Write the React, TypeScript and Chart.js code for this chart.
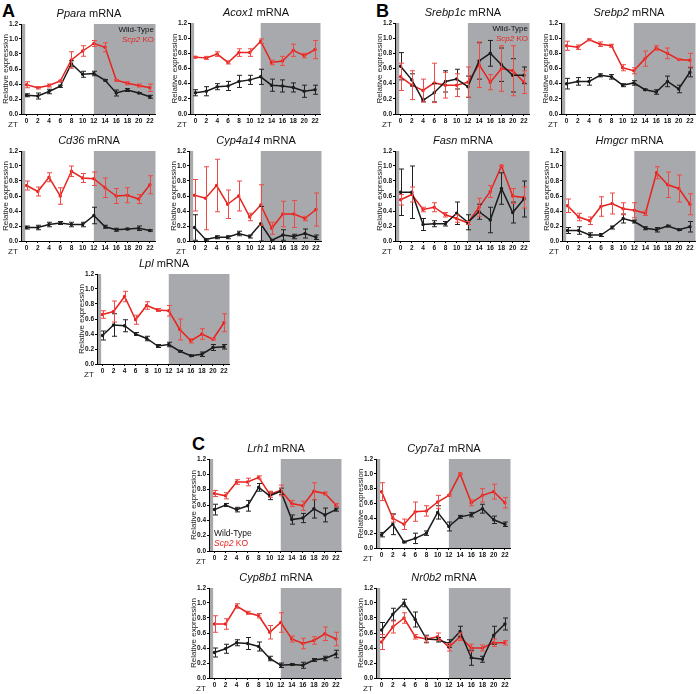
import React, { useEffect, useRef } from 'react';
import { Chart, registerables } from 'chart.js';

Chart.register(...registerables);

// ---- shared axes ----
const ztHours = [0, 2, 4, 6, 8, 10, 12, 14, 16, 18, 20, 22];
const yTickValues = [0, 0.2, 0.4, 0.6, 0.8, 1.0, 1.2];

// ---- Panel A ----
const pparaWT = [0.25, 0.24, 0.30, 0.37, 0.67, 0.53, 0.54, 0.45, 0.28, 0.32, 0.28, 0.23];
const pparaWTErr = [0.02, 0.04, 0.03, 0.015, 0.04, 0.04, 0.03, 0.01, 0.04, 0.02, 0.005, 0.02];
const pparaKO = [0.39, 0.35, 0.38, 0.44, 0.72, 0.84, 0.94, 0.89, 0.45, 0.41, 0.38, 0.35];
const pparaKOErr = [0.04, 0.015, 0.02, 0.01, 0.11, 0.07, 0.04, 0.06, 0.01, 0.02, 0.02, 0.05];

const acox1WT = [0.28, 0.30, 0.36, 0.37, 0.43, 0.45, 0.49, 0.38, 0.37, 0.35, 0.30, 0.32];
const acox1WTErr = [0.04, 0.06, 0.04, 0.06, 0.08, 0.06, 0.10, 0.08, 0.08, 0.06, 0.08, 0.06];
const acox1KO = [0.75, 0.74, 0.79, 0.68, 0.81, 0.81, 0.96, 0.68, 0.70, 0.84, 0.77, 0.85];
const acox1KOErr = [0.01, 0.02, 0.03, 0.02, 0.05, 0.05, 0.03, 0.03, 0.06, 0.08, 0.03, 0.12];

const cd36WT = [0.18, 0.18, 0.22, 0.24, 0.22, 0.22, 0.34, 0.19, 0.15, 0.16, 0.17, 0.14];
const cd36WTErr = [0.02, 0.03, 0.03, 0.02, 0.03, 0.03, 0.11, 0.02, 0.02, 0.01, 0.03, 0.01];
const cd36KO = [0.74, 0.66, 0.85, 0.60, 0.93, 0.84, 0.83, 0.71, 0.60, 0.61, 0.56, 0.75];
const cd36KOErr = [0.06, 0.06, 0.06, 0.11, 0.07, 0.06, 0.09, 0.13, 0.10, 0.10, 0.06, 0.12];

const cyp4a14WT = [0.18, 0.02, 0.05, 0.05, 0.10, 0.06, 0.23, 0.01, 0.08, 0.06, 0.10, 0.05];
const cyp4a14WTErr = [0.17, 0.01, 0.02, 0.02, 0.03, 0.02, 0.23, 0.01, 0.07, 0.03, 0.06, 0.03];
const cyp4a14KO = [0.61, 0.57, 0.74, 0.49, 0.60, 0.32, 0.48, 0.17, 0.36, 0.36, 0.30, 0.42];
const cyp4a14KOErr = [0.21, 0.42, 0.35, 0.19, 0.20, 0.05, 0.27, 0.08, 0.17, 0.18, 0.03, 0.22];

const lplWT = [0.38, 0.52, 0.51, 0.40, 0.34, 0.24, 0.26, 0.17, 0.11, 0.13, 0.22, 0.23];
const lplWTErr = [0.06, 0.15, 0.08, 0.02, 0.03, 0.02, 0.03, 0.01, 0.01, 0.03, 0.04, 0.03];
const lplKO = [0.66, 0.70, 0.90, 0.59, 0.78, 0.72, 0.71, 0.46, 0.31, 0.40, 0.33, 0.55];
const lplKOErr = [0.05, 0.14, 0.07, 0.06, 0.05, 0.02, 0.07, 0.14, 0.03, 0.07, 0.01, 0.12];

// ---- Panel B ----
const srebp1cWT = [0.63, 0.45, 0.18, 0.28, 0.43, 0.46, 0.36, 0.70, 0.80, 0.65, 0.51, 0.51];
const srebp1cWTErr = [0.18, 0.08, 0.02, 0.12, 0.14, 0.13, 0.14, 0.24, 0.17, 0.22, 0.22, 0.11];
const srebp1cKO = [0.49, 0.38, 0.31, 0.41, 0.38, 0.38, 0.42, 0.65, 0.42, 0.60, 0.57, 0.42];
const srebp1cKOErr = [0.18, 0.19, 0.15, 0.26, 0.17, 0.15, 0.20, 0.30, 0.10, 0.30, 0.33, 0.15];

const srebp2WT = [0.40, 0.43, 0.43, 0.51, 0.49, 0.38, 0.41, 0.32, 0.29, 0.43, 0.33, 0.55];
const srebp2WTErr = [0.07, 0.05, 0.05, 0.02, 0.03, 0.02, 0.03, 0.01, 0.03, 0.07, 0.05, 0.06];
const srebp2KO = [0.90, 0.88, 0.98, 0.92, 0.90, 0.61, 0.57, 0.73, 0.87, 0.80, 0.72, 0.71];
const srebp2KOErr = [0.06, 0.03, 0.01, 0.03, 0.02, 0.04, 0.04, 0.10, 0.03, 0.07, 0.01, 0.09];

const fasnWT = [0.65, 0.65, 0.22, 0.23, 0.23, 0.37, 0.25, 0.39, 0.28, 0.70, 0.38, 0.56];
const fasnWTErr = [0.31, 0.35, 0.08, 0.04, 0.03, 0.15, 0.10, 0.10, 0.17, 0.21, 0.14, 0.24];
const fasnKO = [0.55, 0.62, 0.42, 0.45, 0.35, 0.30, 0.24, 0.45, 0.66, 1.00, 0.60, 0.58];
const fasnKOErr = [0.07, 0.10, 0.03, 0.06, 0.03, 0.05, 0.02, 0.12, 0.08, 0.01, 0.10, 0.14];

const hmgcrWT = [0.14, 0.14, 0.08, 0.08, 0.18, 0.30, 0.26, 0.17, 0.15, 0.20, 0.15, 0.19];
const hmgcrWTErr = [0.04, 0.05, 0.03, 0.02, 0.02, 0.06, 0.02, 0.02, 0.03, 0.01, 0.01, 0.07];
const hmgcrKO = [0.47, 0.32, 0.27, 0.46, 0.50, 0.43, 0.41, 0.37, 0.91, 0.75, 0.70, 0.49];
const hmgcrKOErr = [0.09, 0.05, 0.05, 0.13, 0.14, 0.08, 0.10, 0.03, 0.08, 0.17, 0.18, 0.14];

// ---- Panel C ----
const lrh1WT = [0.54, 0.60, 0.54, 0.59, 0.83, 0.72, 0.78, 0.41, 0.43, 0.55, 0.47, 0.54];
const lrh1WTErr = [0.07, 0.02, 0.03, 0.07, 0.05, 0.05, 0.04, 0.06, 0.06, 0.12, 0.09, 0.02];
const lrh1KO = [0.75, 0.72, 0.90, 0.90, 0.96, 0.74, 0.79, 0.62, 0.59, 0.78, 0.75, 0.60];
const lrh1KOErr = [0.04, 0.04, 0.03, 0.05, 0.02, 0.04, 0.07, 0.04, 0.06, 0.11, 0.02, 0.02];

const cyp7a1WT = [0.18, 0.32, 0.08, 0.13, 0.20, 0.48, 0.29, 0.42, 0.45, 0.53, 0.38, 0.32];
const cyp7a1WTErr = [0.03, 0.14, 0.01, 0.07, 0.03, 0.09, 0.06, 0.02, 0.03, 0.06, 0.05, 0.03];
const cyp7a1KO = [0.76, 0.40, 0.32, 0.49, 0.50, 0.62, 0.71, 1.00, 0.61, 0.71, 0.76, 0.61];
const cyp7a1KOErr = [0.12, 0.05, 0.07, 0.13, 0.07, 0.09, 0.01, 0.01, 0.04, 0.09, 0.10, 0.07];

const cyp8b1WT = [0.34, 0.39, 0.47, 0.46, 0.42, 0.26, 0.17, 0.18, 0.17, 0.24, 0.26, 0.32];
const cyp8b1WTErr = [0.06, 0.06, 0.04, 0.08, 0.06, 0.03, 0.03, 0.01, 0.04, 0.02, 0.03, 0.05];
const cyp8b1KO = [0.72, 0.72, 0.96, 0.87, 0.83, 0.61, 0.74, 0.52, 0.46, 0.50, 0.59, 0.52];
const cyp8b1KOErr = [0.11, 0.07, 0.03, 0.02, 0.03, 0.09, 0.13, 0.04, 0.07, 0.05, 0.09, 0.09];

const nr0b2WT = [0.64, 0.85, 1.00, 0.78, 0.52, 0.51, 0.46, 0.62, 0.27, 0.25, 0.57, 0.72];
const nr0b2WTErr = [0.10, 0.08, 0.05, 0.10, 0.05, 0.03, 0.05, 0.07, 0.10, 0.04, 0.12, 0.08];
const nr0b2KO = [0.48, 0.68, 0.80, 0.55, 0.52, 0.55, 0.41, 0.55, 0.40, 0.40, 0.47, 0.47];
const nr0b2KOErr = [0.10, 0.08, 0.07, 0.03, 0.04, 0.05, 0.05, 0.05, 0.05, 0.04, 0.05, 0.03];

// ---- styling ----
const RED = '#e8231e';
const RED_ERR = '#ee4a45';
const BLACK = '#1a1a1a';
const SHADE = '#a8a9ad';
const FONT = '"Liberation Sans", Arial, sans-serif';

type Legend = 'topright' | 'bottomleft' | null;
interface Panel {
  gene: string;
  L: number; T: number; R: number; B: number;
  wt: number[]; wtErr: number[]; ko: number[]; koErr: number[];
  legend: Legend;
}

const panels: Panel[] = [
  { gene: 'Ppara', L: 21, T: 24, R: 157, B: 114, wt: pparaWT, wtErr: pparaWTErr, ko: pparaKO, koErr: pparaKOErr, legend: 'topright' },
  { gene: 'Acox1', L: 190, T: 23, R: 322, B: 114, wt: acox1WT, wtErr: acox1WTErr, ko: acox1KO, koErr: acox1KOErr, legend: null },
  { gene: 'Cd36', L: 21, T: 151, R: 157, B: 241, wt: cd36WT, wtErr: cd36WTErr, ko: cd36KO, koErr: cd36KOErr, legend: null },
  { gene: 'Cyp4a14', L: 189, T: 151, R: 323, B: 241, wt: cyp4a14WT, wtErr: cyp4a14WTErr, ko: cyp4a14KO, koErr: cyp4a14KOErr, legend: null },
  { gene: 'Lpl', L: 97, T: 274, R: 231, B: 364, wt: lplWT, wtErr: lplWTErr, ko: lplKO, koErr: lplKOErr, legend: null },
  { gene: 'Srebp1c', L: 395, T: 23, R: 531, B: 114, wt: srebp1cWT, wtErr: srebp1cWTErr, ko: srebp1cKO, koErr: srebp1cKOErr, legend: 'topright' },
  { gene: 'Srebp2', L: 561, T: 23, R: 697, B: 114, wt: srebp2WT, wtErr: srebp2WTErr, ko: srebp2KO, koErr: srebp2KOErr, legend: null },
  { gene: 'Fasn', L: 395, T: 151, R: 531, B: 241, wt: fasnWT, wtErr: fasnWTErr, ko: fasnKO, koErr: fasnKOErr, legend: null },
  { gene: 'Hmgcr', L: 562, T: 151, R: 697, B: 241, wt: hmgcrWT, wtErr: hmgcrWTErr, ko: hmgcrKO, koErr: hmgcrKOErr, legend: null },
  { gene: 'Lrh1', L: 209, T: 459, R: 343, B: 551, wt: lrh1WT, wtErr: lrh1WTErr, ko: lrh1KO, koErr: lrh1KOErr, legend: 'bottomleft' },
  { gene: 'Cyp7a1', L: 376, T: 459, R: 512, B: 548, wt: cyp7a1WT, wtErr: cyp7a1WTErr, ko: cyp7a1KO, koErr: cyp7a1KOErr, legend: null },
  { gene: 'Cyp8b1', L: 209, T: 588, R: 343, B: 678, wt: cyp8b1WT, wtErr: cyp8b1WTErr, ko: cyp8b1KO, koErr: cyp8b1KOErr, legend: null },
  { gene: 'Nr0b2', L: 376, T: 588, R: 512, B: 678, wt: nr0b2WT, wtErr: nr0b2WTErr, ko: nr0b2KO, koErr: nr0b2KOErr, legend: null },
];

const YW = 22; // y axis box width
const PT = 8;  // top padding
const PR = 4;  // right padding
const XH = 16; // x axis box height

const shadePlugin = {
  id: 'shade',
  beforeDraw(chart: any) {
    const { ctx, chartArea: a, scales } = chart;
    const x = scales.x;
    ctx.save();
    ctx.fillStyle = SHADE;
    const x0 = x.getPixelForValue(-0.25);
    ctx.fillRect(a.left, a.top, x0 - a.left, a.bottom - a.top);
    const x1 = x.getPixelForValue(12);
    ctx.fillRect(x1, a.top, a.right - x1, a.bottom - a.top);
    ctx.restore();
  },
};

const errPlugin = {
  id: 'errbars',
  afterDatasetsDraw(chart: any) {
    const { ctx, scales } = chart;
    const x = scales.x, y = scales.y;
    chart.data.datasets.forEach((ds: any) => {
      ctx.save();
      ctx.strokeStyle = ds.errColor;
      ctx.lineWidth = 1;
      ds.data.forEach((p: any, j: number) => {
        const e = ds.errors[j];
        const px = Math.round(x.getPixelForValue(p.x)) + 0.5;
        const yTop = y.getPixelForValue(p.y + e);
        const yBot = y.getPixelForValue(Math.max(0, p.y - e));
        ctx.beginPath();
        ctx.moveTo(px, yTop); ctx.lineTo(px, yBot);
        ctx.moveTo(px - 2.5, yTop); ctx.lineTo(px + 2.5, yTop);
        ctx.moveTo(px - 2.5, yBot); ctx.lineTo(px + 2.5, yBot);
        ctx.stroke();
      });
      ctx.restore();
    });
  },
  afterDraw(chart: any) {
    const { ctx, chartArea: a } = chart;
    ctx.save();
    ctx.fillStyle = '#222';
    ctx.font = `8px ${FONT}`;
    ctx.textAlign = 'center';
    ctx.textBaseline = 'middle';
    ctx.fillText('ZT', a.left - 8, a.bottom + 11);
    ctx.restore();
  },
};

function MiniChart({ p }: { p: Panel }) {
  const ref = useRef<HTMLCanvasElement>(null);
  const w = p.R - p.L + YW + PR;
  const h = p.B - p.T + PT + XH;
  useEffect(() => {
    if (!ref.current) return;
    const toPts = (arr: number[]) => arr.map((v, i) => ({ x: ztHours[i], y: v }));
    const chart = new Chart(ref.current, {
      type: 'line',
      data: {
        datasets: [
          {
            label: 'Wild-Type',
            data: toPts(p.wt),
            borderColor: BLACK,
            backgroundColor: BLACK,
            borderWidth: 1.5,
            pointRadius: 1,
            tension: 0,
            errors: p.wtErr,
            errColor: '#222',
          } as any,
          {
            label: 'Scp2 KO',
            data: toPts(p.ko),
            borderColor: RED,
            backgroundColor: RED,
            borderWidth: 1.5,
            pointRadius: 1,
            tension: 0,
            errors: p.koErr,
            errColor: RED_ERR,
          } as any,
        ],
      },
      options: {
        responsive: false,
        animation: false,
        events: [],
        layout: { padding: { top: PT, right: PR, left: 0, bottom: 0 } },
        plugins: { legend: { display: false }, tooltip: { enabled: false }, title: { display: false } },
        scales: {
          x: {
            type: 'linear',
            min: -1,
            max: 23,
            afterBuildTicks: (s: any) => { s.ticks = ztHours.map((v) => ({ value: v })); },
            afterFit: (s: any) => { s.height = XH; },
            grid: { drawOnChartArea: false, drawTicks: true, tickLength: 2, color: '#000', lineWidth: 1 },
            border: { display: true, color: '#000', width: 1 },
            ticks: {
              padding: 1,
              maxRotation: 0,
              autoSkip: false,
              color: '#111',
              font: { family: FONT, size: 6.5, weight: 'bold' },
              callback: (v: any) => String(v),
            },
          },
          y: {
            min: 0,
            max: 1.2,
            afterBuildTicks: (s: any) => { s.ticks = yTickValues.map((v) => ({ value: v })); },
            afterFit: (s: any) => { s.width = YW; },
            grid: { drawOnChartArea: false, drawTicks: true, tickLength: 2, color: '#000', lineWidth: 1 },
            border: { display: true, color: '#000', width: 1 },
            ticks: {
              padding: 1,
              color: '#111',
              font: { family: FONT, size: 6.5, weight: 'bold' },
              callback: (v: any) => Number(v).toFixed(1),
            },
            title: {
              display: true,
              text: 'Relative expression',
              color: '#222',
              font: { family: FONT, size: 8 },
              padding: { top: 2, bottom: 0 },
            },
          },
        },
      } as any,
      plugins: [shadePlugin, errPlugin],
    });
    return () => chart.destroy();
  }, [p]);

  return (
    <>
      <canvas
        ref={ref}
        width={w}
        height={h}
        style={{ position: 'absolute', left: p.L - YW, top: p.T - PT, width: w, height: h }}
      />
      <div
        style={{
          position: 'absolute', left: p.L, width: p.R - p.L, top: p.T - 18, lineHeight: '14px',
          fontSize: 11, textAlign: 'center', color: '#111', whiteSpace: 'nowrap',
        }}
      >
        <i>{p.gene}</i> mRNA
      </div>
      {p.legend === 'topright' && (
        <div
          style={{
            position: 'absolute', right: 700 - (p.R - 3), top: p.T + 1, fontSize: 8,
            lineHeight: '10px', textAlign: 'right', whiteSpace: 'nowrap',
          }}
        >
          <div style={{ color: '#111' }}>Wild-Type</div>
          <div style={{ color: RED }}><i>Scp2</i> KO</div>
        </div>
      )}
      {p.legend === 'bottomleft' && (
        <div
          style={{
            position: 'absolute', left: p.L + 5, top: p.B - 23, fontSize: 8.5,
            lineHeight: '10px', textAlign: 'left', whiteSpace: 'nowrap',
          }}
        >
          <div style={{ color: '#111' }}>Wild-Type</div>
          <div style={{ color: RED }}><i>Scp2</i> KO</div>
        </div>
      )}
    </>
  );
}

export default function App() {
  return (
    <div
      style={{
        position: 'absolute', left: 0, top: 0, width: 700, height: 694, overflow: 'hidden',
        background: '#fff', fontFamily: FONT,
      }}
    >
      <div style={{ position: 'absolute', left: 2, top: 0, fontSize: 18, fontWeight: 'bold', lineHeight: '22px' }}>A</div>
      <div style={{ position: 'absolute', left: 376, top: 0, fontSize: 18, fontWeight: 'bold', lineHeight: '22px' }}>B</div>
      <div style={{ position: 'absolute', left: 192, top: 433, fontSize: 18, fontWeight: 'bold', lineHeight: '22px' }}>C</div>
      {panels.map((p) => (
        <MiniChart key={p.gene} p={p} />
      ))}
    </div>
  );
}
